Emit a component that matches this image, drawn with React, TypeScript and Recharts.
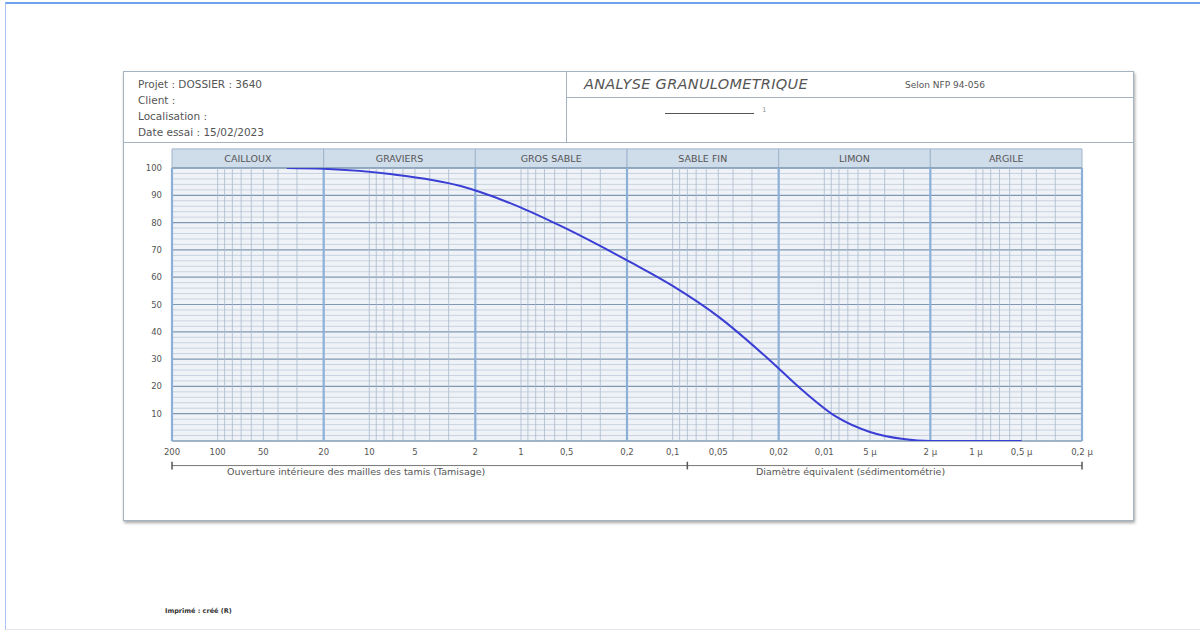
import React from "react";
import { CartesianGrid, Line, LineChart, ReferenceArea, ReferenceLine, XAxis, YAxis } from "recharts";

// sieve opening / equivalent diameter (mm) and cumulative passing (%)
const sizes = [35, 20, 7.3, 2.5, 1.86, 1, 0.53, 0.19, 0.1, 0.049, 0.023, 0.014, 0.0083, 0.005, 0.003, 0.002, 0.0005];
const passing = [100, 99.7, 97.8, 93.4, 91.2, 85.5, 78.4, 65.5, 56.8, 45.2, 29.7, 18.7, 8.8, 3.3, 0.7, 0, 0];

const classes = ["CAILLOUX", "GRAVIERS", "GROS SABLE", "SABLE FIN", "LIMON", "ARGILE"];
const classBounds = [200, 20, 2, 0.2, 0.02, 0.002, 0.0002];

const xTicks = [200, 100, 50, 20, 10, 5, 2, 1, 0.5, 0.2, 0.1, 0.05, 0.02, 0.01, 0.005, 0.002, 0.001, 0.0005, 0.0002];
const yTicks = [10, 20, 30, 40, 50, 60, 70, 80, 90, 100];
const splitSize = 0.08;

const data = sizes.map((s, i) => ({ size: s, passing: passing[i] }));

// log grid: 1..9 x each decade
const minorX: number[] = [];
[0.0001, 0.001, 0.01, 0.1, 1, 10, 100].forEach((b) => {
  for (let m = 1; m <= 9; m++) {
    const v = Number((m * b).toPrecision(3));
    if (v >= 0.0002 && v <= 200) minorX.push(v);
  }
});
const minorY: number[] = [];
for (let v = 0; v <= 100; v += 2) minorY.push(v);

const FONT = "'DejaVu Sans', Verdana, sans-serif";
const TXT = "#555";

const fmtX = (v: number) =>
  v < 0.01 ? `${String(Number((v * 1000).toPrecision(3))).replace(".", ",")} µ` : String(v).replace(".", ",");

const abs = (s: React.CSSProperties): React.CSSProperties => ({ position: "absolute", ...s });

export default function App() {
  return (
    <div style={abs({ left: 0, top: 0, width: 1200, height: 632, background: "#fff", overflow: "hidden", fontFamily: FONT, color: TXT })}>
      <div style={abs({ left: 5, top: 2, width: 1195, height: 628, borderTop: "2px solid #6fa2ee", borderLeft: "1px solid #a9c4f0", borderBottom: "1px solid #e3e6ec", boxSizing: "border-box" })} />

      {/* document frame */}
      <div style={abs({ left: 123, top: 71, width: 1011, height: 450, border: "1px solid #a3b3c2", boxShadow: "1px 2px 3px rgba(0,0,0,0.35)", boxSizing: "border-box" })} />
      <div style={abs({ left: 123, top: 142, width: 1011, height: 0, borderTop: "1px solid #a3b3c2" })} />
      <div style={abs({ left: 566, top: 71, width: 0, height: 71, borderLeft: "1px solid #a3b3c2" })} />
      <div style={abs({ left: 566, top: 97, width: 568, height: 0, borderTop: "1px solid #a3b3c2" })} />

      <div style={abs({ left: 138, top: 76, fontSize: 10.5, lineHeight: "16px" })}>
        <div>Projet : DOSSIER : 3640</div>
        <div>Client :</div>
        <div>Localisation :</div>
        <div>Date essai : 15/02/2023</div>
      </div>

      <div style={abs({ left: 584, top: 76, fontSize: 14.5, fontStyle: "italic", letterSpacing: 0.3, whiteSpace: "nowrap" })}>
        ANALYSE GRANULOMETRIQUE
      </div>
      <div style={abs({ left: 905, top: 80, fontSize: 9, whiteSpace: "nowrap" })}>Selon NFP 94-056</div>
      <div style={abs({ left: 665, top: 113, width: 89, height: 0, borderTop: "1px solid #555" })} />
      <div style={abs({ left: 762, top: 106, fontSize: 7, color: "#999" })}>1</div>

      <LineChart
        width={1200}
        height={632}
        data={data}
        margin={{ top: 168, right: 118, bottom: 161, left: 132 }}
        style={{ position: "absolute", left: 0, top: 0 }}
      >
        <CartesianGrid fill="#eff3f8" stroke="none" />
        <XAxis
          dataKey="size"
          type="number"
          scale="log"
          domain={[0.0002, 200]}
          reversed
          allowDataOverflow
          ticks={xTicks}
          interval={0}
          tickFormatter={fmtX}
          axisLine={false}
          tickLine={false}
          height={30}
          tick={{ fontSize: 8.5, fill: TXT, fontFamily: FONT }}
        />
        <YAxis
          type="number"
          domain={[0, 100]}
          allowDataOverflow
          ticks={yTicks}
          interval={0}
          axisLine={false}
          tickLine={false}
          width={40}
          tickMargin={4}
          tick={{ fontSize: 8.5, fill: TXT, fontFamily: FONT }}
        />
        {minorY.map((v) => (
          <ReferenceLine key={`hy${v}`} y={v} stroke={v % 10 === 0 ? "#7f97b1" : "#bfcad8"} strokeWidth={v % 10 === 0 ? 1.2 : 0.8} />
        ))}
        {minorX.map((v) => (
          <ReferenceLine key={`vx${v}`} x={v} stroke="#a9b9cc" strokeWidth={0.8} />
        ))}
        {classBounds.map((v) => (
          <ReferenceLine key={`cb${v}`} x={v} stroke="#8db0d8" strokeWidth={2.2} />
        ))}
        {classes.map((c, i) => (
          <ReferenceArea
            key={c}
            x1={classBounds[i]}
            x2={classBounds[i + 1]}
            y1={100}
            y2={107}
            ifOverflow="visible"
            fill="#cfdcea"
            fillOpacity={1}
            stroke="#9fb5cd"
            label={{ value: c, position: "center", fontSize: 9.5, fill: TXT, fontFamily: FONT }}
          />
        ))}
        <ReferenceArea x1={200} x2={0.0002} y1={0} y2={100} ifOverflow="visible" fill="none" stroke="#8ea4bb" />
        <ReferenceLine
          segment={[{ x: 200, y: -9 }, { x: 0.0002, y: -9 }]}
          ifOverflow="visible"
          stroke="#777"
        />
        {[200, splitSize, 0.0002].map((v) => (
          <ReferenceLine
            key={`tk${v}`}
            segment={[{ x: v, y: -7.6 }, { x: v, y: -10.4 }]}
            ifOverflow="visible"
            stroke="#555"
            strokeWidth={1.5}
          />
        ))}
        <Line
          dataKey="passing"
          type="monotone"
          stroke="#3a3ed4"
          strokeWidth={2}
          dot={false}
          isAnimationActive={false}
        />
      </LineChart>

      <div style={abs({ left: 227, top: 466, fontSize: 9.5, whiteSpace: "nowrap" })}>
        Ouverture intérieure des mailles des tamis (Tamisage)
      </div>
      <div style={abs({ left: 756, top: 466, fontSize: 9.5, whiteSpace: "nowrap" })}>
        Diamètre équivalent (sédimentométrie)
      </div>

      <div style={abs({ left: 165, top: 607, fontSize: 6.5, fontWeight: "bold", color: "#333", whiteSpace: "nowrap" })}>
        Imprimé : créé (R)
      </div>
    </div>
  );
}
